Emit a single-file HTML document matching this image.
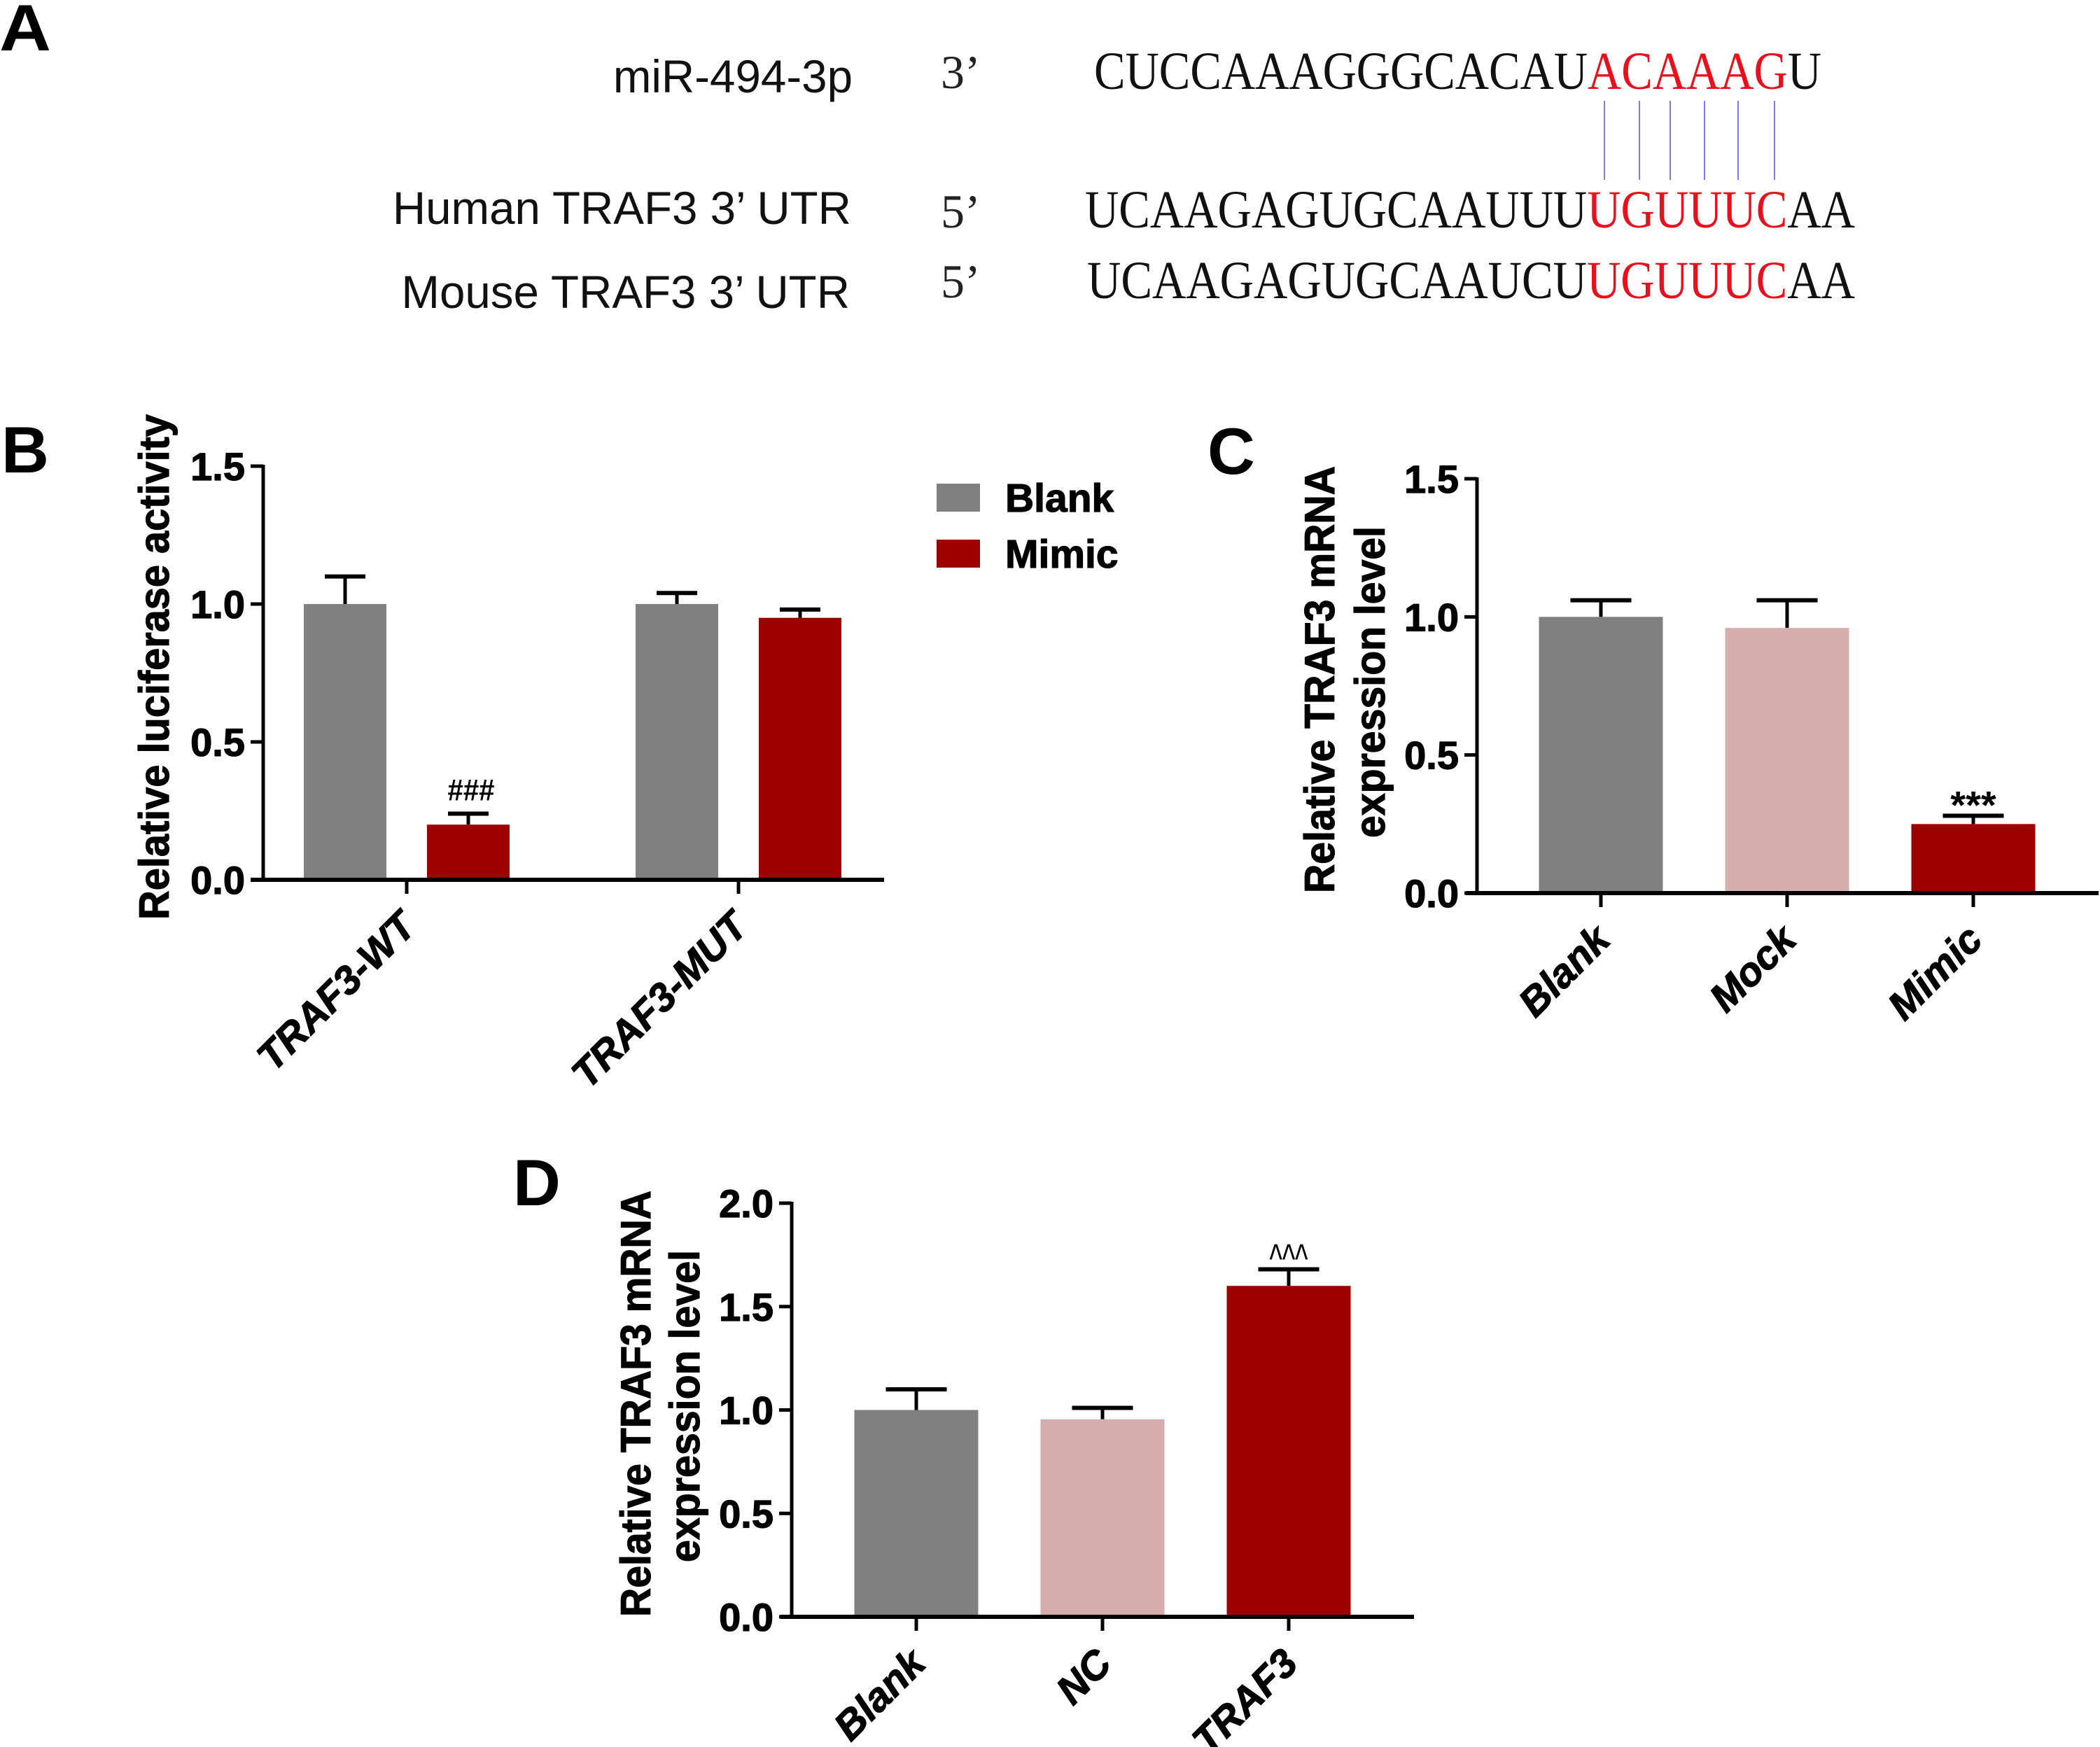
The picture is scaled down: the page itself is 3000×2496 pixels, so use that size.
<!DOCTYPE html>
<html lang="en">
<head>
<meta charset="utf-8">
<title>TRAF3 figure</title>
<style>
html,body{margin:0;padding:0;background:#fff;}
svg{display:block;}
text{font-family:"Liberation Sans",sans-serif;fill:#000;}
.seq,.end{font-family:"Liberation Serif",serif;}
.seq{font-size:76px;fill:#111;}
.end{font-size:68px;fill:#222;}
.lab{font-size:65.5px;text-anchor:end;fill:#111;}
.panel{font-size:94px;font-weight:bold;}
.red{fill:#e8101c;}
.pair{stroke:#7c7ce2;stroke-width:2;}
.heavy{stroke:#000;stroke-width:1.2;}
</style>
</head>
<body>
<svg id="fig" xmlns="http://www.w3.org/2000/svg" width="3000" height="2496" viewBox="0 0 3000 2496">
<rect width="3000" height="2496" fill="#fff"/>
<g>
<text class="panel" x="-1" y="72" textLength="74" lengthAdjust="spacingAndGlyphs">A</text>
<text class="lab" x="1218" y="132">miR-494-3p</text>
<text class="lab" x="1216" y="320">Human TRAF3 3’ UTR</text>
<text class="lab" x="1214" y="440">Mouse TRAF3 3’ UTR</text>
<text class="end" x="1344" y="126">3’</text>
<text class="end" x="1344" y="325">5’</text>
<text class="end" x="1344" y="425">5’</text>
<text class="seq" x="1563" y="127" textLength="1039" lengthAdjust="spacingAndGlyphs">CUCCAAAGGGCACAU<tspan class="red">ACAAAG</tspan>U</text>
<text class="seq" x="1550" y="325" textLength="1100" lengthAdjust="spacingAndGlyphs">UCAAGAGUGCAAUUU<tspan class="red">UGUUUC</tspan>AA</text>
<text class="seq" x="1553" y="426" textLength="1097" lengthAdjust="spacingAndGlyphs">UCAAGAGUGCAAUCU<tspan class="red">UGUUUC</tspan>AA</text>
<g>
<line class="pair" x1="2292" x2="2292" y1="144" y2="257"/>
<line class="pair" x1="2342" x2="2342" y1="144" y2="257"/>
<line class="pair" x1="2386" x2="2386" y1="144" y2="257"/>
<line class="pair" x1="2435" x2="2435" y1="144" y2="257"/>
<line class="pair" x1="2483" x2="2483" y1="144" y2="257"/>
<line class="pair" x1="2535" x2="2535" y1="144" y2="257"/>
</g>
</g>
<text class="panel" x="2" y="675">B</text>
<text class="panel" x="1725" y="677">C</text>
<text class="panel" x="733" y="1722">D</text>
<g>
<rect x="1338" y="691" width="62" height="40" fill="#808080"/>
<text class="heavy" x="1436" y="731" font-size="57" font-weight="bold">Blank</text>
<rect x="1338" y="771" width="62" height="40" fill="#9e0000"/>
<text class="heavy" x="1436" y="811" font-size="57" font-weight="bold">Mimic</text>
</g>
</svg>
<script>
// Panel B data
const bCategories = ['TRAF3-WT', 'TRAF3-MUT'];
const bBlankValues = [1.0, 1.0];
const bBlankErrors = [0.10, 0.04];
const bMimicValues = [0.20, 0.95];
const bMimicErrors = [0.04, 0.03];
const bTicks = ['0.0', '0.5', '1.0', '1.5'];
// Panel C data
const cCategories = ['Blank', 'Mock', 'Mimic'];
const cValues = [1.0, 0.96, 0.25];
const cErrors = [0.06, 0.10, 0.03];
const cTicks = ['0.0', '0.5', '1.0', '1.5'];
// Panel D data
const dCategories = ['Blank', 'NC', 'TRAF3'];
const dValues = [1.0, 0.955, 1.6];
const dErrors = [0.10, 0.055, 0.08];
const dTicks = ['0.0', '0.5', '1.0', '1.5', '2.0'];

const GRAY = '#808080', PINK = '#d6aeae', RED = '#9e0000';
const svg = document.getElementById('fig');
const NS = 'http://www.w3.org/2000/svg';

function mk(parent, tag, attrs, txt) {
  const el = document.createElementNS(NS, tag);
  for (const k in attrs) el.setAttribute(k, attrs[k]);
  if (txt !== undefined) el.textContent = txt;
  parent.appendChild(el);
  return el;
}

function makeChart(name, o) {
  const g = mk(svg, 'g', {});
  
  
  const tickVals = o.ticks.map(Number);
  const yMax = tickVals[tickVals.length - 1];
  const y = v => o.y0 - (v / yMax) * (o.y0 - o.yTop);
  return { g, y, o };
}

function drawBar(ch, cx, w, v, e, color, label) {
  const { g, y, o } = ch;
  const stem = mk(g, 'line', { x1: cx, x2: cx, y1: y(v + e), y2: y(v), stroke: '#000', 'stroke-width': 5 });
  
  
  const bar = mk(g, 'rect', { x: cx - w / 2, y: y(v), width: w, height: o.y0 - y(v), fill: color });
  
  
  const cap = mk(g, 'line', { x1: cx - o.cap / 2, x2: cx + o.cap / 2, y1: y(v + e), y2: y(v + e), stroke: '#000', 'stroke-width': 6 });
  
  
}

function drawAxes(ch, cats) {
  const { g, y, o } = ch;
  const yAxis = mk(g, 'line', { x1: o.x0, x2: o.x0, y1: o.yTop - 2, y2: o.y0, stroke: '#000', 'stroke-width': 5 });
  
  
  const xAxis = mk(g, 'line', { x1: o.xStart, x2: o.xEnd, y1: o.y0, y2: o.y0, stroke: '#000', 'stroke-width': 6 });
  
  
  o.ticks.forEach(t => {
    const yy = y(Number(t));
    const tk = mk(g, 'line', { x1: o.x0 - 18, x2: o.x0, y1: yy, y2: yy, stroke: '#000', 'stroke-width': 5 });
    
    
    const lb = mk(g, 'text', { x: o.x0 - 26, y: yy + 20, 'font-size': 56, 'font-weight': 'bold', 'text-anchor': 'end', class: 'heavy' }, t);
    
    
  });
  cats.forEach((c, i) => {
    const xx = o.xFirst + i * o.xStep;
    const tk = mk(g, 'line', { x1: xx, x2: xx, y1: o.y0, y2: o.y0 + 20, stroke: '#000', 'stroke-width': 5 });
    
    
    const ax = xx + 16, ay = o.y0 + 70;
    const lb = mk(g, 'text', { x: ax, y: ay, 'font-size': 57, 'font-weight': 'bold', 'font-style': 'italic', 'text-anchor': 'end', class: 'heavy', transform: 'rotate(-45 ' + ax + ' ' + ay + ')' }, c);
    
    
  });
}

function yTitle(ch, txt, base, top, bottom) {
  const cy = (top + bottom) / 2;
  const t = mk(ch.g, 'text', { x: base, y: cy, 'font-size': 60, 'font-weight': 'bold', 'text-anchor': 'middle', class: 'heavy', textLength: bottom - top, lengthAdjust: 'spacingAndGlyphs', transform: 'rotate(-90 ' + base + ' ' + cy + ')' }, txt);
  
  
}

function annotate(ch, txt, x, y, size, weight, len) {
  const a = { x: x, y: y, 'font-size': size, 'font-weight': weight, 'text-anchor': 'middle' };
  if (len) { a.textLength = len; a.lengthAdjust = 'spacingAndGlyphs'; }
  const t = mk(ch.g, 'text', a, txt);
  
  
}

// Panel B
const chB = makeChart('panel-b-chart', { ticks: bTicks, x0: 376, xStart: 358, xEnd: 1263, y0: 1257, yTop: 666, cap: 58, xFirst: 581, xStep: 474 });
bCategories.forEach((c, i) => {
  const cx = chB.o.xFirst + i * chB.o.xStep;
  drawBar(chB, cx - 88, 118, bBlankValues[i], bBlankErrors[i], GRAY, 'blank-' + c.toLowerCase());
  drawBar(chB, cx + 88, 118, bMimicValues[i], bMimicErrors[i], RED, 'mimic-' + c.toLowerCase());
});
drawAxes(chB, bCategories);
yTitle(chB, 'Relative luciferase activity', 241, 592, 1314);
annotate(chB, '###', chB.o.xFirst + 92, chB.y(bMimicValues[0] + bMimicErrors[0]) - 19, 44, 'bold', 67);

// Panel C
const chC = makeChart('panel-c-chart', { ticks: cTicks, x0: 2110, xStart: 2094, xEnd: 2998, y0: 1276, yTop: 684, cap: 87, xFirst: 2287, xStep: 266 });
const cColors = [GRAY, PINK, RED];
cCategories.forEach((c, i) => {
  drawBar(chC, chC.o.xFirst + i * chC.o.xStep, 177, cValues[i], cErrors[i], cColors[i], c.toLowerCase());
});
drawAxes(chC, cCategories);
yTitle(chC, 'Relative TRAF3 mRNA', 1906, 666, 1276);
yTitle(chC, 'expression level', 1978, 752, 1197);
annotate(chC, '***', chC.o.xFirst + 2 * chC.o.xStep, chC.y(cValues[2] + cErrors[2]) + 4, 56, 'bold');

// Panel D
const chD = makeChart('panel-d-chart', { ticks: dTicks, x0: 1131, xStart: 1115, xEnd: 2020, y0: 2310, yTop: 1719, cap: 87, xFirst: 1309, xStep: 266 });
const dColors = [GRAY, PINK, RED];
dCategories.forEach((c, i) => {
  drawBar(chD, chD.o.xFirst + i * chD.o.xStep, 177, dValues[i], dErrors[i], dColors[i], c.toLowerCase());
});
drawAxes(chD, dCategories);
yTitle(chD, 'Relative TRAF3 mRNA', 929, 1701, 2310);
yTitle(chD, 'expression level', 999, 1786, 2232);
annotate(chD, '^^^', chD.o.xFirst + 2 * chD.o.xStep, chD.y(dValues[2] + dErrors[2]) + 6, 60, 'normal', 55);
</script>
</body>
</html>
